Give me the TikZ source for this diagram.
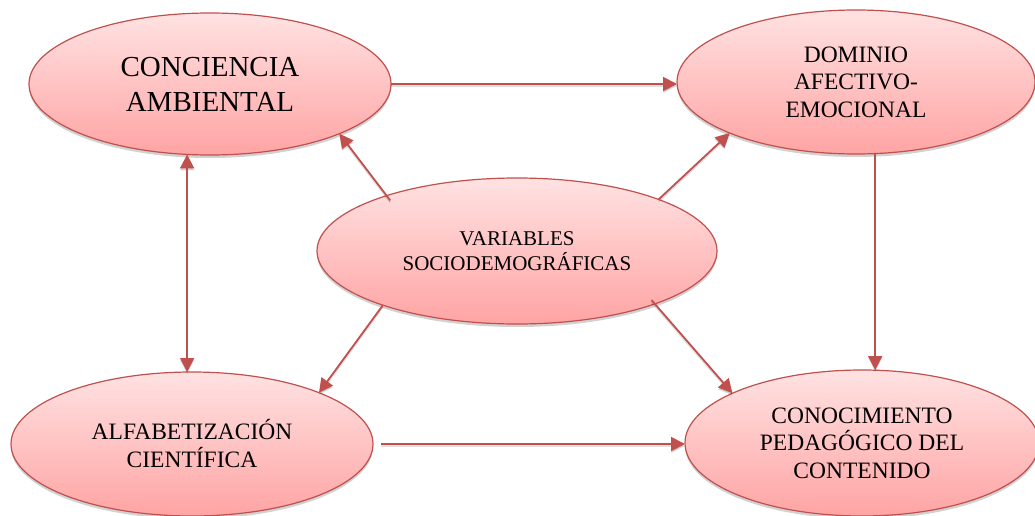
\documentclass[tikz,border=0pt]{standalone}
\usepackage{fontspec}
\setmainfont{Liberation Serif}
\usetikzlibrary{shapes.geometric,arrows.meta,shadows}

\definecolor{edgered}{RGB}{192,80,77}
\definecolor{filltop}{RGB}{255,226,226}
\definecolor{fillbot}{RGB}{255,164,164}

\tikzset{
  bubble/.style={ellipse, draw=edgered, line width=1.2pt, inner sep=0pt, outer sep=0pt,
    top color=filltop, bottom color=fillbot, align=center, text=black,
    drop shadow={shadow xshift=0pt, shadow yshift=-3pt, opacity=0.18, fill=black}},
  link/.style={draw=edgered, line width=1.8pt, -{Triangle[length=14pt,width=14pt]},
    preaction={draw=black, opacity=0.12, line width=1.8pt, transform canvas={yshift=-2pt}}},
  twolink/.style={link, {Triangle[length=14pt,width=14pt]}-{Triangle[length=14pt,width=14pt]}},
}

\begin{document}
\begin{tikzpicture}[x=1pt,y=-1pt]
\useasboundingbox (0,0) rectangle (1035,516);

% concept bubbles
\node[bubble, minimum width=362pt, minimum height=142pt,
      font=\fontsize{29}{35}\selectfont] (conc) at (210,84) {CONCIENCIA\\AMBIENTAL};
\node[bubble, minimum width=358pt, minimum height=144pt,
      font=\fontsize{23.5}{27.5}\selectfont] (dom) at (856,82) {DOMINIO\\AFECTIVO-\\EMOCIONAL};
\node[bubble, minimum width=400pt, minimum height=146pt,
      font=\fontsize{21}{25}\selectfont] (var) at (517,251) {VARIABLES\\SOCIODEMOGRÁFICAS};
\node[bubble, minimum width=362pt, minimum height=144pt,
      font=\fontsize{23.5}{28}\selectfont] (alf) at (192,444) {ALFABETIZACIÓN\\CIENTÍFICA};
\node[bubble, minimum width=354pt, minimum height=146pt,
      font=\fontsize{23.5}{27.5}\selectfont] (cono) at (862,443) {CONOCIMIENTO\\PEDAGÓGICO DEL\\CONTENIDO};

% horizontal links
\draw[link] (conc.east) -- (conc.east -| dom.west);
\draw[link, shorten <=8pt] (alf.east) -- (alf.east -| cono.west);

% vertical links
\draw[twolink] (conc.252.7) -- (conc.252.7 |- alf.north);
\draw[link] (dom.285.5) -- (dom.285.5 |- cono.north);

% links from the central bubble
\draw[link, shorten <=-6pt] (var.157.6) -- (conc.339.8);
\draw[link] (var.20.2) -- (dom.202.5);
\draw[link] (var.202.5) -- (alf.22.8);
\draw[link, shorten <=-5pt] (var.339.8) -- (cono.159.9);
\end{tikzpicture}
\end{document}
